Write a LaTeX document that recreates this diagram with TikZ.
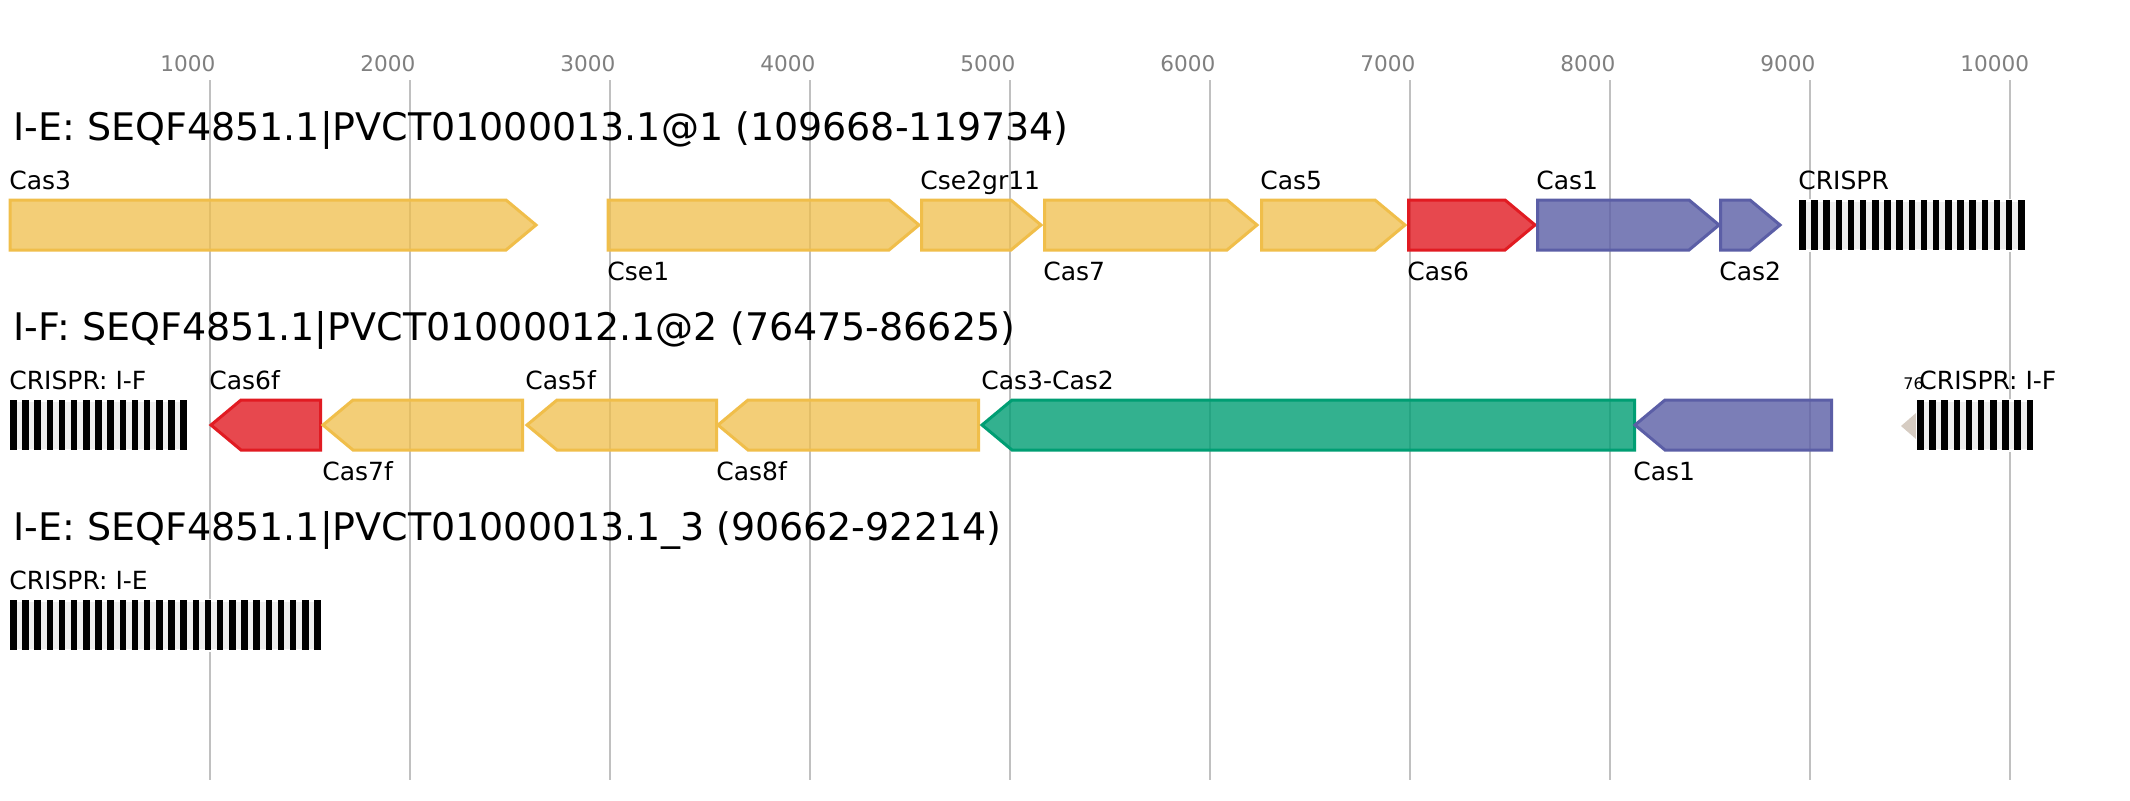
\documentclass[tikz,border=0pt]{standalone}
\usepackage{fontspec}
\setmainfont{DejaVu Sans}
\usetikzlibrary{positioning}

\definecolor{casyellow}{HTML}{F0BE4A}
\definecolor{casred}{HTML}{E11B22}
\definecolor{casblue}{HTML}{5B5EA6}
\definecolor{casgreen}{HTML}{009E73}
\definecolor{casother}{HTML}{D6CCC2}
\definecolor{gridgray}{HTML}{C0C0C0}
\definecolor{tickgray}{HTML}{808080}
\definecolor{spacergray}{HTML}{EFEFEF}

% forward gene: start, tip, middle y, style
\newcommand{\fgene}[4]{\draw[#4] (#1,#3-25) -- (#2-30,#3-25) -- (#2,#3) -- (#2-30,#3+25) -- (#1,#3+25) -- cycle;}
% reverse gene: tip, end, middle y, style
\newcommand{\rgene}[4]{\draw[#4] (#2,#3-25) -- (#1+30,#3-25) -- (#1,#3) -- (#1+30,#3+25) -- (#2,#3+25) -- cycle;}
% crispr array: start, repeats, middle y
\newcommand{\crisprarray}[3]{%
  \filldraw[spacerbox] (#1,#3-25) rectangle ({#1+(#2-1)*12.17+6.5},#3+25);
  \foreach \r in {1,...,#2} \fill[rptbar] ({#1+(\r-1)*12.17},#3-25) rectangle ++(6.5,50);}

\begin{document}
\begin{tikzpicture}[x=0.5pt,y=-0.5pt,line join=miter]
        \tikzstyle{gridline}=[draw=gridgray,line width=1pt]
        \tikzstyle{ticklbl}=[anchor=base west,inner sep=0,text=tickgray,font=\fontsize{10.8}{12}\selectfont]
        \tikzstyle{title}=[anchor=base west,inner sep=0,font=\fontsize{19}{22}\selectfont]
        \tikzstyle{lbl}=[anchor=base west,inner sep=0,font=\fontsize{12.5}{14}\selectfont]
        \tikzstyle{yel}=[draw=casyellow,fill=casyellow,fill opacity=0.75,line width=1.5pt]
        \tikzstyle{red}=[draw=casred,fill=casred,fill opacity=0.8,line width=1.5pt]
        \tikzstyle{blu}=[draw=casblue,fill=casblue,fill opacity=0.8,line width=1.5pt]
        \tikzstyle{grn}=[draw=casgreen,fill=casgreen,fill opacity=0.8,line width=1.5pt]
        \tikzstyle{spacerbox}=[fill=spacergray,draw=white,line width=1.5pt]
        \tikzstyle{rptbar}=[fill=black]

        \useasboundingbox (0,0) rectangle (2130,800);
        \fill[white] (0,0) rectangle (2130,800);

        % scale
        \foreach \kb in {1,...,10} {
          \draw[gridline] (10+200*\kb,80) -- (10+200*\kb,780);
          \node[ticklbl] (tick\kb) at (10+200*\kb-50,71) {\kb000};
        }

        % I-E
        \node[title] (T1) at (13,140) {I-E: SEQF4851.1|PVCT01000013.1@1 (109668-119734)};
        \fgene{10}{536}{225}{yel}
        \fgene{608}{919}{225}{yel}
        \fgene{921.5}{1041}{225}{yel}
        \fgene{1044.5}{1257}{225}{yel}
        \fgene{1261.5}{1405}{225}{yel}
        \fgene{1408.5}{1535}{225}{red}
        \fgene{1537.5}{1719}{225}{blu}
        \fgene{1720.5}{1780}{225}{blu}
        \crisprarray{1799}{19}{225}
        \node[lbl] (Cas3)   at (9,189)     {Cas3};
        \node[lbl] (Cse1)   at (607,280)   {Cse1};
        \node[lbl] (Cse2)   at (920,189)   {Cse2gr11};
        \node[lbl] (Cas7)   at (1043,280)  {Cas7};
        \node[lbl] (Cas5)   at (1260,189)  {Cas5};
        \node[lbl] (Cas6)   at (1407,280)  {Cas6};
        \node[lbl] (Cas1)   at (1536,189)  {Cas1};
        \node[lbl] (Cas2)   at (1719,280)  {Cas2};
        \node[lbl] (CR1)    at (1798,189)  {CRISPR};

        % I-F
        \node[title] (T2) at (13,340) {I-F: SEQF4851.1|PVCT01000012.1@2 (76475-86625)};
        \crisprarray{10}{15}{425}
        \rgene{211}{320.5}{425}{red}
        \rgene{323}{522.5}{425}{yel}
        \rgene{527}{716.5}{425}{yel}
        \rgene{718}{978.5}{425}{yel}
        \rgene{982}{1634.5}{425}{grn}
        \rgene{1635}{1831.5}{425}{blu}
        \fill[casother] (1901,426) -- (1916,413) -- (1916,439) -- cycle;
        \crisprarray{1917}{10}{425}
        \node[lbl] (CR2)    at (9,389)     {CRISPR: I-F};
        \node[lbl] (Cas6f)  at (209,389)   {Cas6f};
        \node[lbl] (Cas7f)  at (322,480)   {Cas7f};
        \node[lbl] (Cas5f)  at (525,389)   {Cas5f};
        \node[lbl] (Cas8f)  at (716,480)   {Cas8f};
        \node[lbl] (Cas32)  at (981,389)   {Cas3-Cas2};
        \node[lbl] (Cas1b)  at (1633,480)  {Cas1};
        \node[anchor=base west,inner sep=0,font=\fontsize{8}{9}\selectfont] (Oth) at (1903,389) {76};
        \node[lbl] (CR3)    at (1919,389)  {CRISPR: I-F};

        % I-E (orphan)
        \node[title] (T3) at (13,540) {I-E: SEQF4851.1|PVCT01000013.1\_3 (90662-92214)};
        \crisprarray{10}{26}{625}
        \node[lbl] (CR4)    at (9,589)     {CRISPR: I-E};
\end{tikzpicture}
\end{document}
